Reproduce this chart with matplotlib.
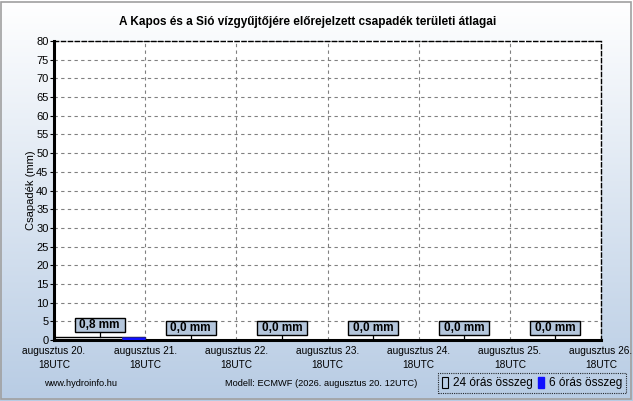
import matplotlib
matplotlib.use("Agg")
import matplotlib.pyplot as plt
import numpy as np
from matplotlib.patches import Rectangle, Patch
from matplotlib.lines import Line2D
from matplotlib.transforms import ScaledTranslation

plt.rcParams['font.family'] = ['Liberation Sans', 'DejaVu Sans']

title = "A Kapos és a Sió vízgyűjtőjére előrejelzett csapadék területi átlagai"
tick_labels = ["augusztus 20.\n18UTC", "augusztus 21.\n18UTC", "augusztus 22.\n18UTC",
               "augusztus 23.\n18UTC", "augusztus 24.\n18UTC", "augusztus 25.\n18UTC",
               "augusztus 26.\n18UTC"]
daily_sum = [0.8, 0.0, 0.0, 0.0, 0.0, 0.0]
six_hour = [0.0, 0.0, 0.0, 0.8,
            0.0, 0.0, 0.0, 0.0,
            0.0, 0.0, 0.0, 0.0,
            0.0, 0.0, 0.0, 0.0,
            0.0, 0.0, 0.0, 0.0,
            0.0, 0.0, 0.0, 0.0]
daily_labels = ["0,8 mm", "0,0 mm", "0,0 mm", "0,0 mm", "0,0 mm", "0,0 mm"]

W, H = 633, 401
fig = plt.figure(figsize=(W / 100, H / 100), dpi=100)

# gradient background
bg = fig.add_axes([0, 0, 1, 1], zorder=-10)
grad = np.linspace(0, 1, 256)[:, None]
top = np.array([1.0, 1.0, 1.0])
bot = np.array([184, 204, 228]) / 255
img = top[None, None, :] * (1 - grad[..., None]) + bot[None, None, :] * grad[..., None]
img = np.repeat(img, 2, axis=1)
bg.imshow(img, aspect='auto', extent=[0, 1, 0, 1], origin='upper')
bg.set_xlim(0, 1)
bg.set_ylim(0, 1)
bg.axis('off')
bg.add_patch(Rectangle((1 / W, 2 / H), 1 - 3 / W, 1 - 4 / H, fill=False,
                       edgecolor='#a0a0a0', lw=1.2, transform=fig.transFigure))

left, right, topp, bottom = 54, 601, 41, 340
ax = fig.add_axes([left / W, (H - bottom) / H, (right - left) / W, (bottom - topp) / H])
ax.set_facecolor('white')

hours_day = np.arange(len(daily_sum)) * 24
hours_6 = np.arange(len(six_hour)) * 6

ax.bar(hours_day, daily_sum, width=24, align='edge', facecolor='none',
       edgecolor='black', lw=1, zorder=3)
ax.bar(hours_6, six_hour, width=6, align='edge', color='#1010ff',
       edgecolor='#2020a0', lw=0.6, zorder=4)

# value boxes (sizes in inches relative to the bar top)
bw, bh, gap = 0.50, 0.14, 0.05
for i, (v, lab) in enumerate(zip(daily_sum, daily_labels)):
    x = hours_day[i] + 12
    tr = fig.dpi_scale_trans + ScaledTranslation(x, v, ax.transData)
    ax.add_line(Line2D([0, 0], [0, gap], color='black', lw=0.9, transform=tr,
                       zorder=6, clip_on=False))
    ax.add_patch(Rectangle((-bw / 2, gap), bw, bh, facecolor='#b4c6dc',
                           edgecolor='black', lw=1, transform=tr, zorder=6,
                           clip_on=False))
    ax.text(0, gap + bh / 2, lab, transform=tr, ha='center', va='center',
            fontsize=8.5, fontweight='bold', zorder=7)

ax.set_xlim(0, 144)
ax.set_ylim(0, 80)
ax.set_xticks(np.arange(0, 145, 24))
ax.set_xticklabels(tick_labels, fontsize=7.3, linespacing=1.5)
ax.set_yticks(np.arange(0, 81, 5))
ax.tick_params(axis='y', labelsize=8, length=3, pad=1)
ax.tick_params(axis='x', length=0, pad=4)
ax.grid(True, color='#808080', linestyle=(0, (3, 3)), lw=0.8)
ax.set_axisbelow(True)
ax.set_ylabel("Csapadék (mm)", fontsize=8, labelpad=0)

for s in ['top', 'right']:
    ax.spines[s].set_linestyle((0, (3, 2)))
    ax.spines[s].set_linewidth(1.0)
ax.spines['left'].set_linewidth(2.2)
ax.spines['bottom'].set_linewidth(2.2)

fig.text(308 / W, 1 - 22 / H, title, ha='center', va='center',
         fontsize=8.5, fontweight='bold')

fig.text(44 / W, 1 - 384 / H, "www.hydroinfo.hu", fontsize=6.7, va='center', ha='left')
fig.text(225 / W, 1 - 384 / H, "Modell: ECMWF (2026. augusztus 20. 12UTC)",
         fontsize=6.7, va='center', ha='left')

# legend
h1 = Patch(facecolor='none', edgecolor='black', lw=0.8, label='24 órás összeg')
h2 = Patch(facecolor='#1010ff', edgecolor='#1010ff', label='6 órás összeg')
leg = fig.legend(handles=[h1, h2], loc='center', bbox_to_anchor=(532 / W, 1 - 383 / H),
                 ncol=2, fontsize=8.5, frameon=True, fancybox=False,
                 handlelength=0.5, handleheight=1.1, handletextpad=0.4,
                 columnspacing=0.5, borderpad=0.3)
leg.get_frame().set_edgecolor('black')
leg.get_frame().set_linestyle((0, (1, 1)))
leg.get_frame().set_linewidth(0.8)
leg.get_frame().set_facecolor('none')

fig.savefig("out.png", dpi=100)
